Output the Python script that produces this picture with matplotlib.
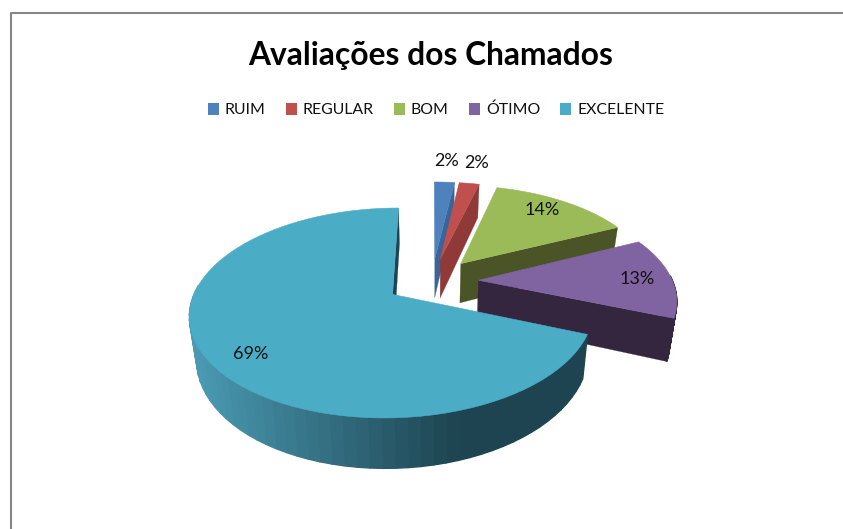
# -*- coding: utf-8 -*-
import numpy as np
import matplotlib
matplotlib.use('Agg')
import matplotlib.pyplot as plt
from matplotlib.patches import Polygon, Patch
from matplotlib.colors import to_rgb

plt.rcParams['font.family'] = ['Lato', 'DejaVu Sans']

title = 'Avaliações dos Chamados'
categories = ['RUIM', 'REGULAR', 'BOM', 'ÓTIMO', 'EXCELENTE']
values = [2, 2, 14, 13, 69]
top_colors = ['#4f81bd', '#c0504d', '#9bbb59', '#8064a2', '#4bacc6']
wall_colors = ['#3a6598', '#8f3a38', '#4a5426', '#352640', '#1d4450']

# look of the fake 3d pie, in pixels of the picture
CX, CY = 432, 281
BX, AY, PERSP = 194, 97, 0.173
EXPLODE = 0.24
DEPTH = 40.5
SHRINK = 0.97


def project(u, v, low=False):
    """disk coordinates -> picture pixels, low=True gives the underside"""
    den = 1 + PERSP * v
    x = BX * u / den
    y = CY - AY * v / den
    if low:
        x = x * SHRINK
        y = y + DEPTH / den
    return CX + x, y


def slice_outline(start, end, mid):
    ang = np.radians(np.linspace(start, end, 80))
    off_u = EXPLODE * np.sin(np.radians(mid))
    off_v = EXPLODE * np.cos(np.radians(mid))
    u = np.concatenate([[off_u], off_u + np.sin(ang)])
    v = np.concatenate([[off_v], off_v + np.cos(ang)])
    return u, v, ang


def quad(ax, u, v, i, j, color, lw=0.6):
    xa, ya = project(u[i], v[i])
    xb, yb = project(u[j], v[j])
    xc, yc = project(u[j], v[j], low=True)
    xd, yd = project(u[i], v[i], low=True)
    ax.add_patch(Polygon([(xa, ya), (xb, yb), (xc, yc), (xd, yd)], closed=True,
                         facecolor=color, edgecolor=color, linewidth=lw))


def wall_shade(x, base):
    # teal side goes from light on the left to dark past the middle
    light = np.array(to_rgb('#4a9ab3'))
    dark = np.array(to_rgb(base))
    t = np.clip((x - 195) / (463 - 195), 0, 1)
    return tuple(light + (dark - light) * t)


fig = plt.figure(figsize=(8.43, 5.29), dpi=100)
ax = fig.add_axes([0, 0, 1, 1])
ax.set_xlim(0, 843)
ax.set_ylim(529, 0)
ax.axis('off')

# chart frame
ax.plot([11, 11, 843], [529, 13, 13], color='#868686', linewidth=1.5)

edges = np.cumsum([0] + values) * 3.6
for i in range(len(values)):
    start, end = edges[i], edges[i + 1]
    mid = (start + end) / 2
    u, v, ang = slice_outline(start, end, mid)
    last = len(u) - 1
    big = i == len(values) - 1
    # cut face that looks to the right
    if big:
        quad(ax, u, v, 0, last, wall_colors[i], lw=0.2)
    # rim only where it looks at us, the back part would poke out over the top
    for k in range(1, last):
        if np.cos(ang[k - 1]) > 0.05:
            continue
        color = wall_colors[i]
        if big:
            xm, _ = project(u[k], v[k])
            color = wall_shade(xm, wall_colors[i])
        quad(ax, u, v, k, k + 1, color, lw=1.0)
    if not big:
        quad(ax, u, v, 0, last, wall_colors[i], lw=0.2)
    xs, ys = project(u, v)
    ax.add_patch(Polygon(np.column_stack([xs, ys]), closed=True,
                         facecolor=top_colors[i], edgecolor=top_colors[i], linewidth=0.4))

label_x = [447, 477, 542, 637, 251]
label_y = [161, 163, 210, 279, 354]
for val, lx, ly in zip(values, label_x, label_y):
    ax.text(lx, ly, '%d%%' % val, fontsize=13, ha='center', va='center', color='#111111')

ax.text(431, 55, title, fontsize=22.9, fontweight='bold', ha='center', va='center', color='black')

handles = [Patch(facecolor=c, edgecolor='none', label=n) for c, n in zip(top_colors, categories)]
ax.legend(handles=handles, ncol=5, loc='center', bbox_to_anchor=(436 / 843, 1 - 110 / 529),
          frameon=False, fontsize=11.4, handlelength=0.7, handleheight=0.85,
          handletextpad=0.38, columnspacing=1.26, labelcolor='#111111')

fig.savefig('out.png', dpi=100)
